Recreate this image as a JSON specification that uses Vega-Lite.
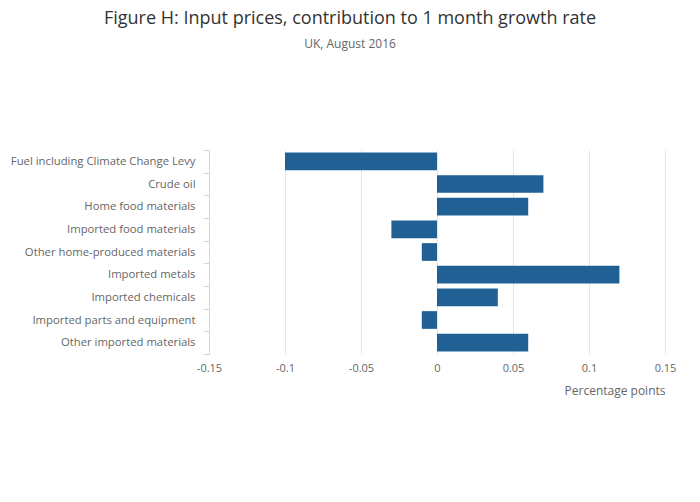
{
  "$schema": "https://vega.github.io/schema/vega-lite/v6.json",
  "width": 456,
  "height": 204,
  "autosize": {"type": "none"},
  "padding": {"left": 209, "top": 150, "right": 35, "bottom": 148},
  "background": "white",
  "config": {
    "font": "Open Sans",
    "view": {"stroke": null}
  },
  "title": {
    "text": "Figure H: Input prices, contribution to 1 month growth rate",
    "subtitle": "UK, August 2016",
    "anchor": "middle",
    "dx": -87,
    "offset": 94,
    "font": "Open Sans",
    "fontSize": 18,
    "fontWeight": "normal",
    "color": "#333333",
    "subtitleFont": "Open Sans",
    "subtitleFontSize": 12,
    "subtitleColor": "#666666",
    "subtitlePadding": 11
  },
  "data": {
    "values": [
      {"category": "Fuel including Climate Change Levy", "value": -0.1},
      {"category": "Crude oil", "value": 0.07},
      {"category": "Home food materials", "value": 0.06},
      {"category": "Imported food materials", "value": -0.03},
      {"category": "Other home-produced materials", "value": -0.01},
      {"category": "Imported metals", "value": 0.12},
      {"category": "Imported chemicals", "value": 0.04},
      {"category": "Imported parts and equipment", "value": -0.01},
      {"category": "Other imported materials", "value": 0.06}
    ]
  },
  "mark": {"type": "bar", "color": "#206095", "height": {"band": 0.78}},
  "encoding": {
    "y": {
      "field": "category",
      "type": "nominal",
      "sort": null,
      "scale": {"paddingInner": 0, "paddingOuter": 0},
      "axis": {
        "title": null,
        "tickBand": "extent",
        "domainColor": "#ccd6eb",
        "tickColor": "#ccd6eb",
        "tickSize": 6,
        "labelPadding": 8,
        "labelFont": "Open Sans",
        "labelFontSize": 11.3,
        "labelColor": "#666666",
        "labelLimit": 300,
        "grid": false
      }
    },
    "x": {
      "field": "value",
      "type": "quantitative",
      "scale": {"domain": [-0.15, 0.15], "nice": false, "zero": false},
      "axis": {
        "values": [-0.15, -0.1, -0.05, 0, 0.05, 0.1, 0.15],
        "labelExpr": "'' + datum.value",
        "labelFlush": false,
        "labelOverlap": false,
        "title": "Percentage points",
        "titleAnchor": "end",
        "titleFont": "Open Sans",
        "titleFontSize": 12,
        "titleFontWeight": "normal",
        "titleColor": "#666666",
        "titlePadding": 12,
        "domain": false,
        "ticks": false,
        "grid": true,
        "gridColor": "#e6e6e6",
        "labelPadding": 8,
        "labelFont": "Open Sans",
        "labelFontSize": 11,
        "labelColor": "#666666"
      }
    }
  }
}
